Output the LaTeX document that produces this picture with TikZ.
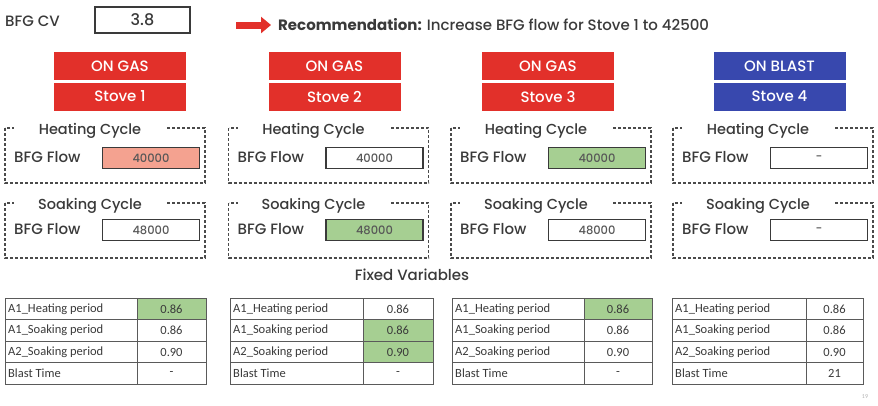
\documentclass[tikz,border=0pt]{standalone}
\usepackage{fontspec}
\setmainfont{Poppins}[UprightFont=* Medium, BoldFont=* Bold]
\newfontfamily\tabfont{Carlito}
\usetikzlibrary{arrows.meta}
\definecolor{gasred}{HTML}{E2302A}
\definecolor{blastblue}{HTML}{3848AE}
\definecolor{warnfill}{HTML}{F4A290}
\definecolor{okfill}{HTML}{A6CF92}
\definecolor{ink}{HTML}{3A3A3A}
\definecolor{dashgray}{HTML}{4A4A4A}
\definecolor{gridgray}{HTML}{5A5A5A}
\tikzset{
  lbl/.style={text=ink, font=\fontsize{15}{17}\selectfont, inner sep=0pt},
  status/.style={minimum width=132pt, minimum height=28pt, inner sep=0pt,
    text=white, font=\fontsize{15}{17}\selectfont},
  cyclebox/.style={draw=dashgray, line width=1.1pt, dash pattern=on 3pt off 2pt},
  cycletitle/.style={fill=white, text=ink, minimum width=152pt, minimum height=8pt,
    inner sep=0pt, font=\fontsize{14.5}{16}\selectfont},
  valbox/.style={draw=ink, line width=1.2pt, minimum width=97pt, minimum height=21pt,
    inner sep=0pt, text=ink!85, font=\fontsize{11.5}{13}\selectfont},
  cell/.style={draw=gridgray, line width=0.8pt},
  celltxt/.style={text=ink, inner sep=0pt, font=\tabfont\fontsize{12.5}{14}\selectfont},
}
% one column per stove: status, cycles
% #1 name, #2 status centre x, #3 dashed box left x, #4 status text, #5 colour,
% #6 stove label, #7 heating value, #8 heating fill, #9 soaking value (fill in \soakfill)
\newcommand{\stovecolumn}[9]{%
  \node[status, fill=#5] (#1st) at (#2,66) {#4};
  \node[status, fill=#5] (#1nm) at (#2,96.5) {#6};
  % heating cycle
  \draw[cyclebox] (#3,128) rectangle ++(200,55);
  \node[cycletitle] (#1ht) at (#3+85,131) {Heating Cycle};
  \node[lbl, anchor=west] (#1hl) at (#3+9,157.5) {BFG Flow};
  \node[valbox, fill=#8] (#1hv) at (#3+146,158) {#7};
  % soaking cycle
  \draw[cyclebox] (#3,203) rectangle ++(200,55);
  \node[cycletitle] (#1sk) at (#3+85,206) {Soaking Cycle};
  \node[lbl, anchor=west] (#1sl) at (#3+9,229.5) {BFG Flow};
  \node[valbox, fill=\soakfill] (#1sv) at (#3+146,230) {#9};
}
\newcommand{\soakfill}{white}
% fixed-variable tables: #1 name, #2 left, #3 divider, #4 right, #5-#8 values
\newcommand{\fixedtable}[8]{%
  \draw[cell] (#2,298) rectangle (#4,384);
  \draw[cell] (#3,298) -- (#3,384);
  \foreach \r in {1,2,3} { \draw[cell] (#2,298+21.5*\r) -- (#4,298+21.5*\r); }
  \node[celltxt, anchor=west] (#1k0) at (#2+3,309) {A1\_Heating period};
  \node[celltxt, anchor=west] (#1k1) at (#2+3,330.5) {A1\_Soaking period};
  \node[celltxt, anchor=west] (#1k2) at (#2+3,352) {A2\_Soaking period};
  \node[celltxt, anchor=west] (#1k3) at (#2+3,373.5) {Blast Time};
  \node[celltxt] (#1v0) at ({(#3+#4)/2},309) {#5};
  \node[celltxt] (#1v1) at ({(#3+#4)/2},330.5) {#6};
  \node[celltxt] (#1v2) at ({(#3+#4)/2},352) {#7};
  \node[celltxt] (#1v3) at ({(#3+#4)/2},373.5) {#8};
}
% highlighted value cell: #1 divider, #2 right, #3 row
\newcommand{\okcell}[3]{\fill[okfill] (#1,298+21.5*#3) rectangle (#2,298+21.5*#3+21.5);}
\begin{document}
\begin{tikzpicture}[x=1pt,y=-1pt]
\useasboundingbox[fill=white] (0,0) rectangle (878,405);

% header: calorific value and recommendation
\node[lbl, anchor=west] (cvlabel) at (5,21) {BFG CV};
\node[draw=ink, line width=1.3pt, minimum width=95pt, minimum height=26pt, inner sep=0pt,
  text=ink, font=\fontsize{16}{18}\selectfont] (cv) at (142.5,20) {3.8};
\coordinate (arrowtail) at (236,25);
\node[lbl, anchor=west] (rec) at (278,25) {\textbf{Recommendation:} Increase BFG flow for Stove 1 to 42500};
\draw[gasred, line width=7pt, -{Triangle[length=10pt, width=16pt]}] (arrowtail) -- ([xshift=-7pt]rec.west);

\stovecolumn{a}{120}{5}{ON GAS}{gasred}{Stove 1}{40000}{warnfill}{48000}
\renewcommand{\soakfill}{okfill}
\stovecolumn{b}{334.5}{228.5}{ON GAS}{gasred}{Stove 2}{40000}{white}{48000}
\renewcommand{\soakfill}{white}
\stovecolumn{c}{548}{451}{ON GAS}{gasred}{Stove 3}{40000}{okfill}{48000}
\stovecolumn{d}{779.5}{673}{ON BLAST}{blastblue}{Stove 4}{-}{white}{-}

\node[lbl] (fixed) at (412,275) {Fixed Variables};

\okcell{137}{206}{0}
\fixedtable{ta}{5}{137}{206}{0.86}{0.86}{0.90}{-}
\okcell{363}{433}{1}
\okcell{363}{433}{2}
\fixedtable{tb}{230}{363}{433}{0.86}{0.86}{0.90}{-}
\okcell{584}{652}{0}
\fixedtable{tc}{452}{584}{652}{0.86}{0.86}{0.90}{-}
\fixedtable{td}{672}{806}{863}{0.86}{0.86}{0.90}{21}

\node[text=black!30, font=\tabfont\fontsize{6}{7}\selectfont] (page) at (865,397) {19};
\end{tikzpicture}
\end{document}
